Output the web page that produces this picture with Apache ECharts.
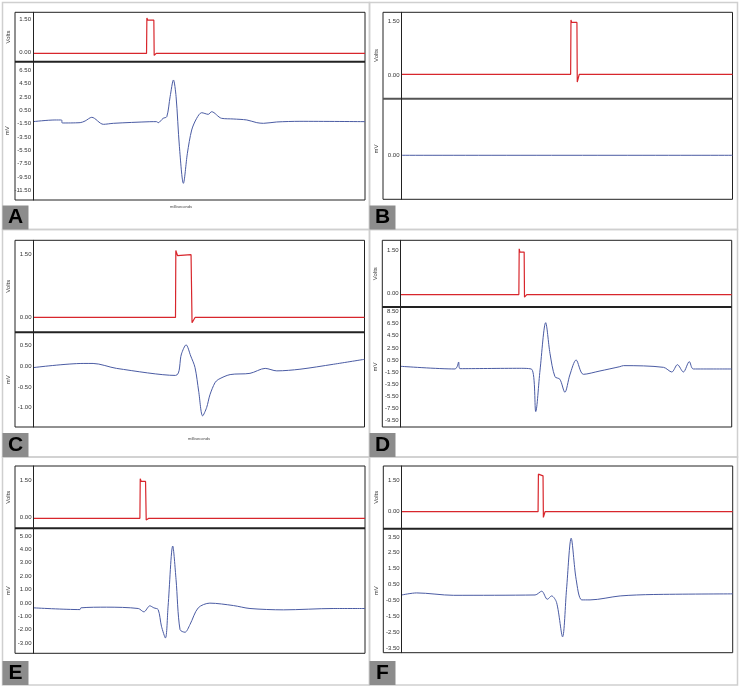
<!DOCTYPE html>
<html>
<head>
<meta charset="utf-8">
<title>Stimulus and response traces</title>
<script src="https://cdn.jsdelivr.net/npm/echarts@6/dist/echarts.min.js"></script>
<style>
  html, body { margin: 0; padding: 0; background: #fff; }
  #main { width: 740px; height: 687px; }
</style>
</head>
<body>
<div id="main"></div>
<script>
// each trace: [time, value], time runs 0..1000 across the plot (no x labels in the figure)
const redA = [[0, -0.03], [342, -0.03], [343, 1.55], [346, 1.45], [364, 1.45], [365, -0.12], [371, -0.03], [1000, -0.03]];
const blueA = [[0, -1.2], [66, -0.95], [86, -0.95], [88, -1.4], [142, -1.35], [157, -1.1], [177, -0.55], [212, -1.6],
  [242, -1.45], [352, -1.21], [372, -1.2], [377, -1.36], [392, -0.7], [403, -0.46], [413, 2.54], [423, 5.05],
  [431, 2.54], [441, -4.96], [453, -10.45], [465, -5.95], [478, -2.45], [493, -0.7], [508, 0.14], [528, -0.1],
  [538, 0.29], [568, -0.7], [603, -0.8], [644, -0.95], [674, -1.35], [694, -1.45], [734, -1.25], [804, -1.15], [1000, -1.2]];

const redB = [[0, 0.02], [511, 0.02], [512, 1.55], [514, 1.48], [530, 1.48], [531, -0.2], [537, 0.02], [1000, 0.02]];
const blueB = [[0, 0], [1000, 0]];

const redC = [[0, -0.01], [429, -0.01], [430, 1.6], [435, 1.48], [440, 1.5], [476, 1.5], [479, -0.14], [488, -0.01], [1000, -0.01]];
const blueC = [[0, -0.03], [150, 0.07], [180, 0.07], [251, -0.05], [429, -0.22], [447, 0.3], [461, 0.52], [475, 0.25],
  [488, -0.03], [499, -0.6], [511, -1.2], [523, -1.0], [533, -0.69], [548, -0.4], [558, -0.32], [594, -0.2],
  [654, -0.17], [700, -0.05], [735, -0.11], [805, -0.07], [906, 0.05], [1000, 0.17]];

const redD = [[0, -0.03], [357, -0.03], [358, 1.55], [360, 1.44], [373, 1.44], [374, -0.12], [381, -0.03], [1000, -0.03]];
const blueD = [[0, -0.54], [164, -0.98], [171, -0.54], [175, 0.17], [179, -0.93], [360, -0.87], [396, -1.04], [408, -8.0],
  [421, -1.15], [438, 6.65], [451, 1.6], [466, -2.25], [481, -2.68], [496, -4.82], [511, -1.97], [530, 0.5],
  [552, -1.86], [602, -1.31], [662, -0.6], [673, -0.43], [794, -0.71], [819, -1.48], [836, -0.27], [854, -1.48],
  [872, 0.23], [884, -0.98], [1000, -0.98]];

const redE = [[0, -0.03], [321, -0.03], [322, 1.56], [325, 1.45], [338, 1.45], [340, -0.1], [348, -0.03], [1000, -0.03]];
const blueE = [[0, -0.36], [140, -0.49], [143, -0.36], [220, -0.31], [316, -0.41], [333, -0.66], [351, -0.21], [363, -0.36],
  [376, -0.49], [386, -1.73], [398, -2.61], [406, -0.24], [420, 4.25], [430, 1.76], [442, -1.98], [457, -2.18],
  [472, -1.61], [497, -0.36], [532, -0.01], [603, -0.19], [653, -0.41], [754, -0.51], [904, -0.41], [1000, -0.41]];

const redF = [[0, 0], [412, 0], [413, 1.79], [416, 1.71], [427, 1.71], [428, -0.27], [433, 0], [1000, 0]];
const blueF = [[0, -0.16], [45, -0.03], [156, -0.18], [403, -0.16], [423, 0.08], [440, -0.43], [453, -0.22], [468, -0.64],
  [486, -2.8], [498, 0.2], [512, 3.42], [527, 0.83], [544, -0.47], [569, -0.47], [660, -0.22], [760, -0.13], [1000, -0.09]];

// tick labels
const voltTicks = [0, 1.5];
const mvTicksA = [6.5, 4.5, 2.5, 0.5, -1.5, -3.5, -5.5, -7.5, -9.5, -11.5];
const mvTicksB = [0];
const mvTicksC = [0.5, 0, -0.5, -1];
const mvTicksD = [8.5, 6.5, 4.5, 2.5, 0.5, -1.5, -3.5, -5.5, -7.5, -9.5];
const mvTicksE = [5, 4, 3, 2, 1, 0, -1, -2, -3];
const mvTicksF = [3.5, 2.5, 1.5, 0.5, -0.5, -1.5, -2.5, -3.5];

const RED = '#d8262c';
const BLUE = '#4a5ba3';
const INK = '#222';

// layout: box = [boxLeft, axisX, right, top, divider, bottom], cell = [x, y, w, h]
const panels = [
  { letter: 'A', red: redA, blue: blueA, vRange: [-0.40, 1.80], mRange: [-12.95, 7.79], ticks: mvTicksA,
    box: [15, 33, 365, 12.3, 61.7, 200], cell: [2.5, 2.5, 367, 227], ms: [181, 207] },
  { letter: 'B', red: redB, blue: blueB, vRange: [-0.667, 1.765], mRange: [-0.875, 1.125], ticks: mvTicksB,
    box: [383, 401.5, 732.5, 12.3, 98.7, 199.3], cell: [369.5, 2.5, 368, 227] },
  { letter: 'C', red: redC, blue: blueC, vRange: [-0.368, 1.847], mRange: [-1.469, 0.824], ticks: mvTicksC,
    box: [15, 33.5, 364.5, 240.3, 332.3, 427], cell: [2.5, 229.5, 367, 227.5], ms: [199, 439] },
  { letter: 'D', red: redD, blue: blueD, vRange: [-0.46, 1.846], mRange: [-10.54, 9.23], ticks: mvTicksD,
    box: [382.3, 400.7, 731.7, 240.3, 307, 427], cell: [369.5, 229.5, 368, 227.5] },
  { letter: 'E', red: redE, blue: blueE, vRange: [-0.43, 2.07], mRange: [-3.75, 5.57], ticks: mvTicksE,
    box: [15, 33.5, 365, 466, 528.3, 653.3], cell: [2.5, 457, 367, 228] },
  { letter: 'F', red: redF, blue: blueF, vRange: [-0.81, 2.18], mRange: [-3.8, 4.02], ticks: mvTicksF,
    box: [383.3, 401.7, 732.7, 466, 528.7, 652.7], cell: [369.5, 457, 368, 228] }
];

const grid = [], xAxis = [], yAxis = [], series = [], graphic = [];

panels.forEach(p => {
  const [bl, ax, r, t, d, b] = p.box;
  const parts = [
    { top: t, bottom: d, range: p.vRange, ticks: voltTicks, name: 'Volts', data: p.red, color: RED, smooth: false },
    { top: d, bottom: b, range: p.mRange, ticks: p.ticks, name: 'mV', data: p.blue, color: BLUE, smooth: 0.3 }
  ];
  parts.forEach(s => {
    const k = grid.length;
    grid.push({ left: ax, top: s.top, width: r - ax, height: s.bottom - s.top, outerBoundsMode: 'none' });
    xAxis.push({ type: 'value', gridIndex: k, min: 0, max: 1000, show: false });
    yAxis.push({
      type: 'value', gridIndex: k, min: s.range[0], max: s.range[1], z: 20,
      name: s.name, nameLocation: 'middle', nameGap: 22,
      nameTextStyle: { fontSize: 6, color: '#333', fontFamily: 'Liberation Sans' },
      axisLine: { show: true, lineStyle: { color: INK, width: 1 } },
      axisTick: { show: false },
      splitLine: { show: false },
      axisLabel: {
        customValues: s.ticks, formatter: v => v.toFixed(2),
        fontSize: 6, color: '#333', margin: 2, fontFamily: 'Liberation Sans'
      }
    });
    series.push({
      type: 'line', xAxisIndex: k, yAxisIndex: k, data: s.data,
      showSymbol: false, smooth: s.smooth, silent: true,
      lineStyle: { color: s.color, width: s.smooth ? 1 : 1.2 }
    });
  });

  // light cell border
  const [cx, cy, cw, ch] = p.cell;
  graphic.push({ type: 'rect', shape: { x: cx, y: cy, width: cw, height: ch },
    style: { fill: null, stroke: '#cfcfcf', lineWidth: 1.5 }, z: 1 });
  // panel frame and divider
  graphic.push({ type: 'rect', shape: { x: bl, y: t, width: r - bl, height: b - t },
    style: { fill: null, stroke: INK, lineWidth: 1 }, z: 3 });
  graphic.push({ type: 'line', shape: { x1: bl, y1: d, x2: r, y2: d },
    style: { stroke: p.letter === 'B' ? '#555' : INK, lineWidth: 2 }, z: 3 });
  // letter tag
  graphic.push({ type: 'rect', shape: { x: cx, y: cy + ch - 24, width: 26, height: 24 },
    style: { fill: '#8c8c8c' }, z: 5 });
  graphic.push({ type: 'text', x: cx + 13, y: cy + ch - 12, z: 6,
    style: { text: p.letter, fill: '#000', font: 'bold 21px "Liberation Sans", Arial, sans-serif',
      align: 'center', verticalAlign: 'middle' } });
  if (p.ms) {
    graphic.push({ type: 'text', x: p.ms[0], y: p.ms[1], z: 6,
      style: { text: 'milliseconds', fill: '#444', font: '4px "Liberation Sans", Arial, sans-serif',
        align: 'center', verticalAlign: 'middle' } });
  }
});

const chart = echarts.init(document.getElementById('main'));
chart.setOption({
  animation: false,
  backgroundColor: '#fff',
  grid, xAxis, yAxis, series, graphic
});
</script>
</body>
</html>
